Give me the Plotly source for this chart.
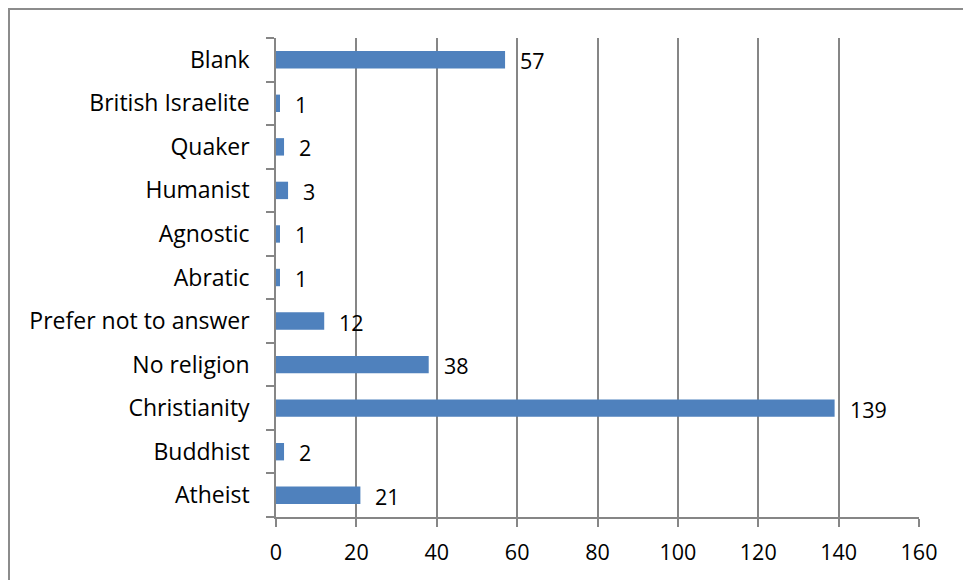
import plotly.graph_objects as go

categories = ["Atheist", "Buddhist", "Christianity", "No religion", "Prefer not to answer",
              "Abratic", "Agnostic", "Humanist", "Quaker", "British Israelite", "Blank"]
counts = [21, 2, 139, 38, 12, 1, 1, 3, 2, 1, 57]
x_ticks = [0, 20, 40, 60, 80, 100, 120, 140, 160]

W, H = 963, 580
L, R, T, B = 276, 44, 38, 63
pw, ph = W - L - R, H - T - B

FONT = "Open Sans"
FS_CAT = 23
FS_NUM = 21.5
GRID = "#868686"

fig = go.Figure(go.Bar(
    x=counts, y=categories, orientation="h",
    marker=dict(color="#4F81BD", line=dict(width=0)),
    hoverinfo="x+y",
))

# value labels just past the end of each bar
for cat, val in zip(categories, counts):
    fig.add_annotation(x=val, y=cat, text=str(val), showarrow=False,
                       xanchor="left", yanchor="middle", xshift=13, yshift=-1,
                       font=dict(family=FONT, size=FS_NUM, color="#000000"))

# outer chart frame (right/bottom edges run off the page)
fig.add_shape(type="rect", xref="paper", yref="paper",
              x0=(9 - L) / pw, x1=(W + 20 - L) / pw,
              y0=-(H + 20 - T - ph) / ph, y1=1 + (T - 9) / ph,
              line=dict(color="#8C8C8C", width=2), fillcolor="rgba(0,0,0,0)", layer="below")

fig.update_layout(
    width=W, height=H,
    margin=dict(l=L, r=R, t=T, b=B),
    paper_bgcolor="white", plot_bgcolor="white",
    bargap=0.6, showlegend=False,
    font=dict(family=FONT, size=FS_NUM, color="#000000"),
    xaxis=dict(range=[0, 160], tickvals=x_ticks, showgrid=True, gridcolor=GRID, gridwidth=1.5,
               zeroline=False, showline=True, linecolor=GRID, linewidth=1.5,
               ticks="outside", ticklen=8, tickcolor=GRID, tickwidth=1.5,
               tickfont=dict(family=FONT, size=FS_NUM), ticklabelstandoff=7),
    yaxis=dict(categoryorder="array", categoryarray=categories, showgrid=False,
               showline=True, linecolor=GRID, linewidth=1.5, tickson="boundaries",
               ticks="outside", ticklen=8, tickcolor=GRID, tickwidth=1.5,
               tickfont=dict(family=FONT, size=FS_CAT), ticklabelstandoff=20),
)

fig.write_html("out.html")
